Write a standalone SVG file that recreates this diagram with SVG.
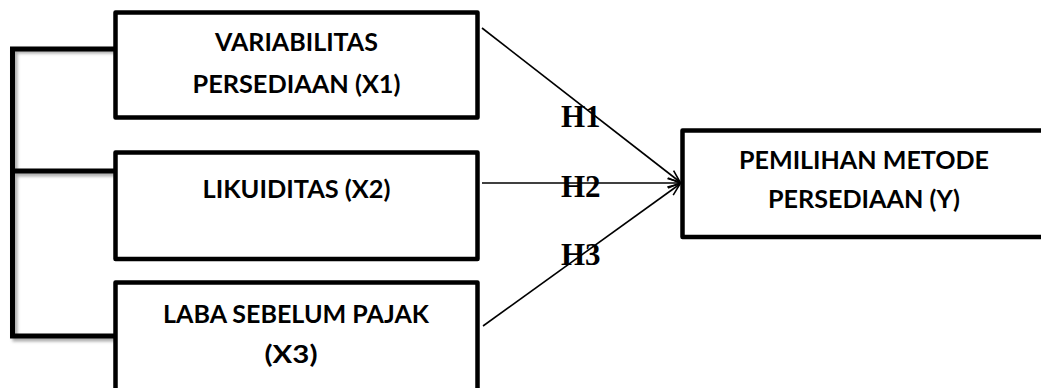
<svg xmlns="http://www.w3.org/2000/svg" width="1041" height="388" viewBox="0 0 1041 388">
  <style>
    .box { fill: #ffffff; stroke: #000000; stroke-width: 4.5; stroke-linejoin: round; }
    .lbl { font-family: "Lato", "Open Sans", sans-serif; font-weight: bold; font-size: 24px; fill: #000000; text-anchor: middle; }
    .hyp { font-family: "Liberation Serif", "Times New Roman", serif; font-weight: bold; font-size: 31px; fill: #000000; }
    .conn { stroke: #000000; stroke-width: 1.6; fill: none; marker-end: url(#arr); }
    .brk { stroke: #000000; stroke-width: 5; fill: none; stroke-linejoin: miter; }
    .brk-sh { stroke: #8a8a8a; stroke-width: 5; fill: none; filter: url(#blur); opacity: 0.7; }
  </style>
  <defs>
    <marker id="arr" markerUnits="userSpaceOnUse" markerWidth="16" markerHeight="14" refX="13" refY="6" orient="auto">
      <path d="M1,1 L13,6 L1,11" fill="none" stroke="#000000" stroke-width="1.6"/>
    </marker>
    <filter id="blur" x="-20%" y="-20%" width="140%" height="140%">
      <feGaussianBlur stdDeviation="1.5"/>
    </filter>
  </defs>
  <rect width="1041" height="388" fill="#ffffff"/>

  <g id="bracket">
    <path class="brk-sh" d="M117,51 H15 V339 H117 M15,174 H117"/>
    <path class="brk" d="M117,49 H12.5 V336 H117 M12.5,171 H117"/>
  </g>

  <g id="connectors">
    <line class="conn" x1="482" y1="28" x2="680" y2="182"/>
    <line class="conn" x1="482" y1="183" x2="680" y2="183"/>
    <line class="conn" x1="483" y1="326" x2="680" y2="184"/>
  </g>

  <g id="node-x1">
    <rect class="box" x="115.5" y="12.5" width="362" height="105"/>
    <text class="lbl" x="296.5" y="51" textLength="163" lengthAdjust="spacingAndGlyphs">VARIABILITAS</text>
    <text class="lbl" x="296.5" y="93" textLength="208" lengthAdjust="spacingAndGlyphs">PERSEDIAAN (X1)</text>
  </g>

  <g id="node-x2">
    <rect class="box" x="115.5" y="152.5" width="362" height="106.5"/>
    <text class="lbl" x="296.5" y="198" textLength="188" lengthAdjust="spacingAndGlyphs">LIKUIDITAS (X2)</text>
  </g>

  <g id="node-x3">
    <rect class="box" x="115.5" y="282.5" width="362" height="120"/>
    <text class="lbl" x="296" y="323" textLength="266" lengthAdjust="spacingAndGlyphs">LABA SEBELUM PAJAK</text>
    <text class="lbl" x="291" y="363" textLength="53" lengthAdjust="spacingAndGlyphs">(X3)</text>
  </g>

  <g id="node-y">
    <rect class="box" x="682.5" y="130.5" width="370" height="106.5"/>
    <text class="lbl" x="864" y="169" textLength="250" lengthAdjust="spacingAndGlyphs">PEMILIHAN METODE</text>
    <text class="lbl" x="864" y="208" textLength="192" lengthAdjust="spacingAndGlyphs">PERSEDIAAN (Y)</text>
  </g>

  <g id="labels">
    <text class="hyp" x="561" y="127">H1</text>
    <text class="hyp" x="561" y="197">H2</text>
    <text class="hyp" x="561" y="265">H3</text>
  </g>
</svg>
